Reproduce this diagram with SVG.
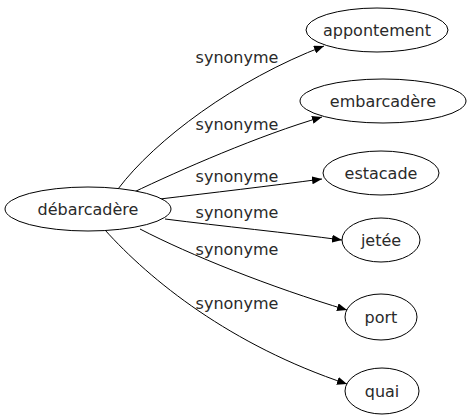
<svg xmlns="http://www.w3.org/2000/svg" width="472" height="419" viewBox="0 0 472 419">
<defs>
<marker id="arr" viewBox="0 0 10 8" refX="10" refY="4" markerWidth="10" markerHeight="8" markerUnits="userSpaceOnUse" orient="auto">
<path d="M0,0 L10,4 L0,8 Z" fill="#000"/>
</marker>
<style>
.n ellipse{fill:#fff;stroke:#000;stroke-width:1}
.n text,.l{font-family:"DejaVu Sans",sans-serif;font-size:16px;fill:#2a2a2a;text-anchor:middle}
.e path{fill:none;stroke:#000;stroke-width:1;marker-end:url(#arr)}
</style>
</defs>
<rect width="472" height="419" fill="#fff"/>
<g id="edges" class="e">
<path d="M118,189 C155,140 235,80 324,46"/>
<path d="M132,193 C180,170 260,135 322,117"/>
<path d="M160,199 C210,193 270,186 322,179"/>
<path d="M165,219 C220,226 290,233 342,240"/>
<path d="M140,229 C190,255 270,287 347,310"/>
<path d="M105,230 C150,280 230,345 347,384"/>
</g>
<g id="labels">
<text class="l" x="237" y="63">synonyme</text>
<text class="l" x="237" y="130">synonyme</text>
<text class="l" x="237" y="182">synonyme</text>
<text class="l" x="237" y="218">synonyme</text>
<text class="l" x="237" y="255">synonyme</text>
<text class="l" x="237" y="309">synonyme</text>
</g>
<g id="debarcadere" class="n"><ellipse cx="88" cy="209" rx="83" ry="22"/><text x="88" y="215">débarcadère</text></g>
<g id="appontement" class="n"><ellipse cx="377" cy="30" rx="71" ry="22"/><text x="377" y="36">appontement</text></g>
<g id="embarcadere" class="n"><ellipse cx="383" cy="101" rx="83" ry="22"/><text x="383" y="107">embarcadère</text></g>
<g id="estacade" class="n"><ellipse cx="381" cy="173" rx="58" ry="22"/><text x="381" y="179">estacade</text></g>
<g id="jetee" class="n"><ellipse cx="381" cy="240" rx="39" ry="22"/><text x="381" y="246">jetée</text></g>
<g id="port" class="n"><ellipse cx="381" cy="317" rx="36" ry="23"/><text x="381" y="323">port</text></g>
<g id="quai" class="n"><ellipse cx="382" cy="391" rx="37" ry="23"/><text x="382" y="397">quai</text></g>
</svg>
